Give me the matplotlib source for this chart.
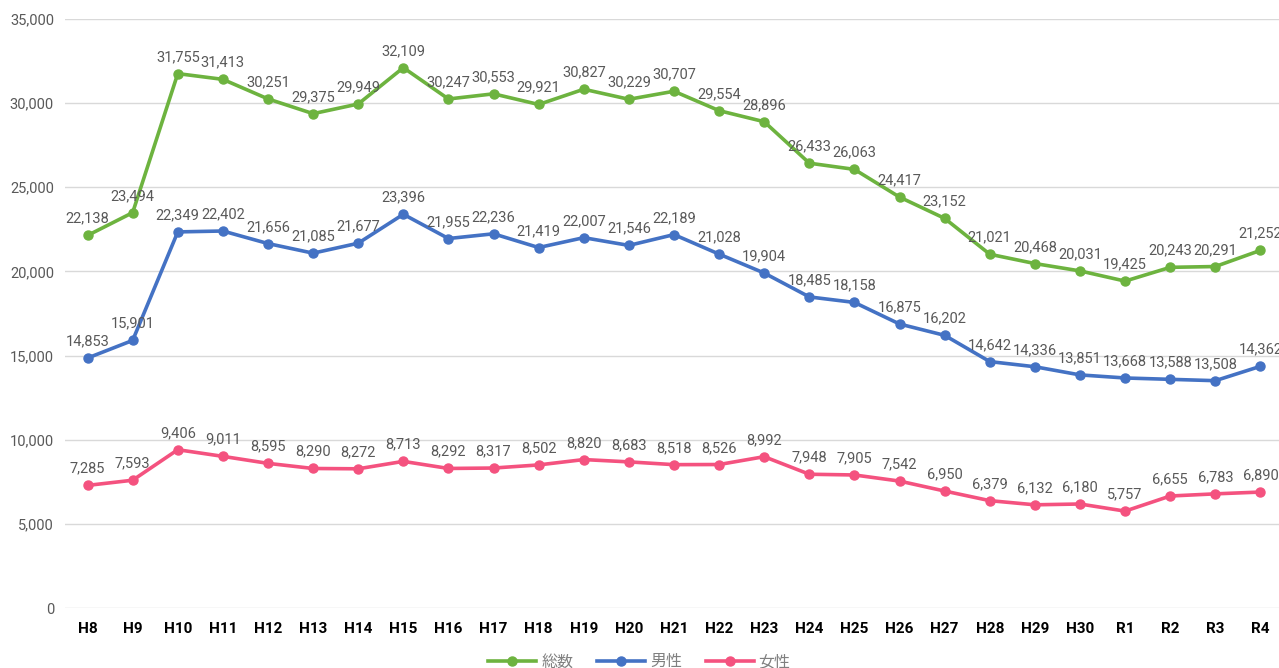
import matplotlib
matplotlib.use("Agg")
import matplotlib.pyplot as plt
from matplotlib.ticker import FuncFormatter

plt.rcParams['font.family'] = ['Noto Sans CJK JP', 'DejaVu Sans']

categories = ["H8", "H9", "H10", "H11", "H12", "H13", "H14", "H15", "H16", "H17", "H18",
              "H19", "H20", "H21", "H22", "H23", "H24", "H25", "H26", "H27", "H28", "H29",
              "H30", "R1", "R2", "R3", "R4"]
total = [22138, 23494, 31755, 31413, 30251, 29375, 29949, 32109, 30247, 30553, 29921,
         30827, 30229, 30707, 29554, 28896, 26433, 26063, 24417, 23152, 21021, 20468,
         20031, 19425, 20243, 20291, 21252]
male = [14853, 15901, 22349, 22402, 21656, 21085, 21677, 23396, 21955, 22236, 21419,
        22007, 21546, 22189, 21028, 19904, 18485, 18158, 16875, 16202, 14642, 14336,
        13851, 13668, 13588, 13508, 14362]
female = [7285, 7593, 9406, 9011, 8595, 8290, 8272, 8713, 8292, 8317, 8502,
          8820, 8683, 8518, 8526, 8992, 7948, 7905, 7542, 6950, 6379, 6132,
          6180, 5757, 6655, 6783, 6890]
series_names = ["総数", "男性", "女性"]
colors = ["#6DB33F", "#4472C4", "#F4527F"]

fig = plt.figure(figsize=(12.79, 6.68), dpi=100)
ax = fig.add_axes([65/1279, 1-608/668, (1283-65)/1279, (608-19)/668])

x = list(range(len(categories)))
for vals, name, c in zip([total, male, female], series_names, colors):
    ax.plot(x, vals, color=c, lw=2.6, marker='o', ms=6.5, label=name,
            solid_joinstyle='round', zorder=3)
    for xi, v in zip(x, vals):
        ax.annotate(f"{v:,}", (xi, v), xytext=(0, 7), textcoords='offset points',
                    ha='center', va='bottom', fontsize=10.5, color='#595959',
                    family=['Roboto', 'DejaVu Sans'])

ax.set_xlim(-0.5, 26.5)
ax.set_ylim(0, 35000)
ax.set_yticks(range(0, 35001, 5000))
ax.yaxis.set_major_formatter(FuncFormatter(lambda v, p: f"{int(v):,}"))
ax.set_xticks(x)
ax.set_xticklabels(categories, fontsize=11, fontweight='bold', color='black',
                   family=['Roboto', 'DejaVu Sans'])
for lab in ax.get_yticklabels():
    lab.set_fontsize(10.5)
    lab.set_color('#595959')
    lab.set_family(['Roboto', 'DejaVu Sans'])
ax.grid(axis='y', color='#D9D9D9', lw=1)
ax.set_axisbelow(True)
for s in ax.spines.values():
    s.set_visible(False)
ax.tick_params(length=0, pad=8)
ax.tick_params(axis='x', pad=10)

leg = fig.legend(loc='lower center', bbox_to_anchor=(0.5, -0.025), ncol=3, frameon=False,
                 fontsize=11.5, handlelength=3, columnspacing=1.5, handletextpad=0.3)
for t in leg.get_texts():
    t.set_color('#808080')

fig.savefig("out.png", dpi=100)
